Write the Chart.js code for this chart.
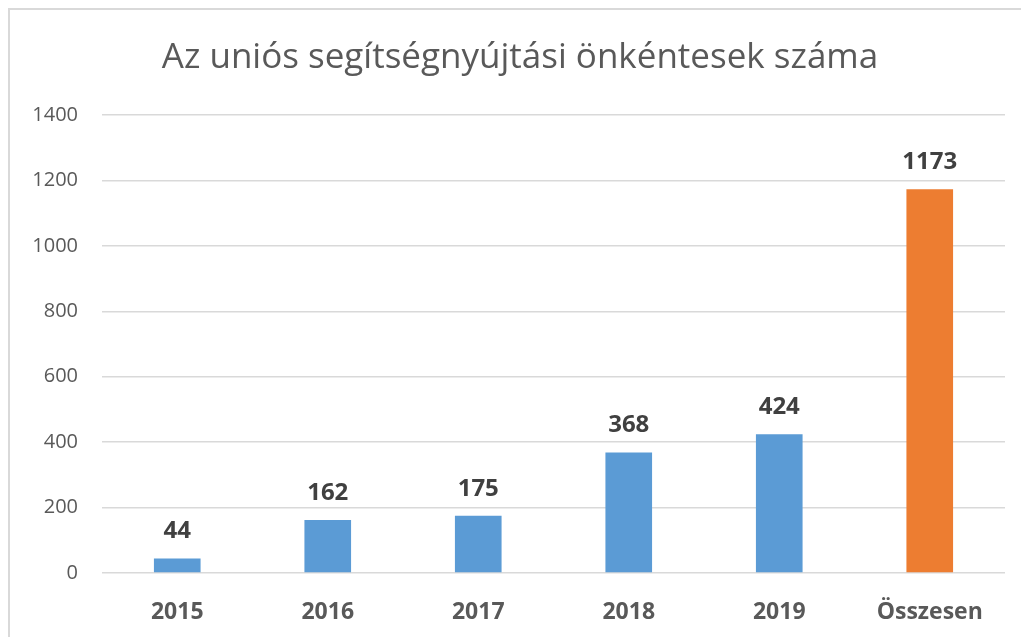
<!DOCTYPE html>
<html>
<head>
<meta charset="utf-8">
<script src="https://cdn.jsdelivr.net/npm/chart.js@4"></script>
<style>
    html, body { margin: 0; padding: 0; background: #ffffff; overflow: hidden; }
    #frame { position: absolute; left: 8px; top: 8px; width: 1100px; height: 700px; border: 2px solid #d9d9d9; box-sizing: border-box; }
    #wrap { position: absolute; left: 0; top: 0; width: 1021px; height: 637px; }
</style>
</head>
<body>
<div id="frame"></div>
<div id="wrap"><canvas id="chart" width="1021" height="637"></canvas></div>
<script>
// --- Chart data ---
const categories = ["2015", "2016", "2017", "2018", "2019", "Összesen"];
const volunteers = [44, 162, 175, 368, 424, 1173];
const barColors = ["#5b9bd5", "#5b9bd5", "#5b9bd5", "#5b9bd5", "#5b9bd5", "#ed7d31"];
const titleText = "Az uniós segítségnyújtási önkéntesek száma";

const FONT = "'Open Sans', 'Noto Sans', sans-serif";

// Title drawn by hand so it sits where the original one does
const titlePlugin = {
    id: "bigTitle",
    afterDraw(chart) {
        const ctx = chart.ctx;
        ctx.save();
        ctx.font = "35px " + FONT;
        ctx.fillStyle = "#595959";
        ctx.textAlign = "center";
        ctx.textBaseline = "middle";
        ctx.fillText(titleText, 520, 58);
        ctx.restore();
    }
};

// Value labels above each bar
const valueLabels = {
    id: "valueLabels",
    afterDatasetsDraw(chart) {
        const ctx = chart.ctx;
        const meta = chart.getDatasetMeta(0);
        ctx.save();
        ctx.font = "bold 24px " + FONT;
        ctx.fillStyle = "#404040";
        ctx.textAlign = "center";
        ctx.textBaseline = "middle";
        meta.data.forEach((bar, i) => {
            ctx.fillText(String(volunteers[i]), bar.x, bar.y - 27);
        });
        ctx.restore();
    }
};

document.addEventListener("DOMContentLoaded", () => {
    new Chart(document.getElementById("chart"), {
        type: "bar",
        data: {
            labels: categories,
            datasets: [{
                data: volunteers,
                backgroundColor: barColors,
                borderWidth: 0,
                barPercentage: 0.31,
                categoryPercentage: 1.0
            }]
        },
        options: {
            responsive: false,
            animation: false,
            layout: { padding: { top: 115, right: 16, left: 0, bottom: 0 } },
            plugins: { legend: { display: false }, tooltip: { enabled: false }, title: { display: false } },
            scales: {
                y: {
                    min: 0, max: 1400,
                    ticks: {
                        stepSize: 200, color: "#595959", font: { family: FONT, size: 20 }, padding: 24,
                        callback: (v) => String(v)
                    },
                    grid: { color: "#d9d9d9", lineWidth: 1.5, drawTicks: false },
                    border: { display: false },
                    afterFit(scale) { scale.width = 102; }
                },
                x: {
                    ticks: { color: "#595959", font: { family: FONT, size: 23, weight: "bold" }, padding: 26 },
                    grid: { display: false, drawTicks: false },
                    border: { display: false },
                    afterFit(scale) { scale.height = 64; }
                }
            }
        },
        plugins: [titlePlugin, valueLabels]
    });
});
</script>
</body>
</html>
